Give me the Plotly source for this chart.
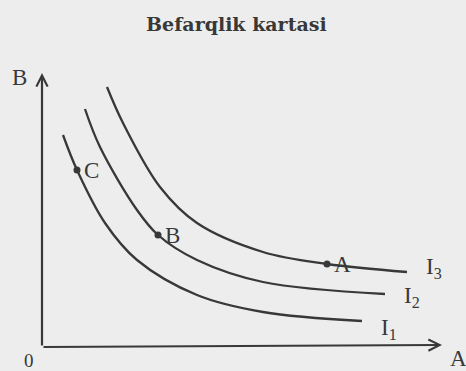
import plotly.graph_objects as go

# indifference curves (origin at the axes corner)
i1_x = [21, 35, 63, 95, 155, 221, 320]
i1_y = [212, 177, 124, 87, 52, 35, 26]
i2_x = [43, 58, 95, 116, 155, 221, 343]
i2_y = [238, 200, 137, 112, 87, 65, 53]
i3_x = [65, 81, 118, 155, 221, 285, 365]
i3_y = [260, 224, 160, 124, 95, 83, 75]

point_names = ["C", "B", "A"]
point_x = [35, 116, 285]
point_y = [177, 112, 83]

curve_names = ["I<sub>1</sub>", "I<sub>2</sub>", "I<sub>3</sub>"]

ink = "#383838"
serif = "Liberation Serif"

fig = go.Figure()

for xs, ys in [(i1_x, i1_y), (i2_x, i2_y), (i3_x, i3_y)]:
    fig.add_trace(
        go.Scatter(
            x=xs, y=ys, mode="lines",
            line=dict(color=ink, width=2.3, shape="spline", smoothing=1.0),
            hoverinfo="skip", showlegend=False,
        )
    )

fig.add_trace(
    go.Scatter(
        x=point_x, y=point_y, mode="markers",
        marker=dict(color=ink, size=7),
        hoverinfo="skip", showlegend=False,
    )
)

# point labels sit just right of each point
for name, px, py in zip(point_names, point_x, point_y):
    fig.add_annotation(
        x=px, y=py, text=name, showarrow=False, xanchor="left", xshift=5,
        font=dict(family=serif, size=23, color=ink),
    )

# curve labels at the right end of each curve
for name, xs, ys, dy in zip(curve_names, [i1_x, i2_x, i3_x], [i1_y, i2_y, i3_y], [-8, -3, 4]):
    fig.add_annotation(
        x=xs[-1], y=ys[-1] + dy, text=name, showarrow=False, xanchor="left", xshift=17,
        font=dict(family=serif, size=23, color=ink),
    )

# axes with arrowheads
fig.add_annotation(
    x=0, y=274, ax=0, ay=0, xref="x", yref="y", axref="x", ayref="y",
    showarrow=True, arrowhead=5, arrowsize=1, arrowwidth=2.2, arrowcolor=ink,
    standoff=0, text="",
)
fig.add_annotation(
    x=400, y=2, ax=0, ay=0, xref="x", yref="y", axref="x", ayref="y",
    showarrow=True, arrowhead=5, arrowsize=1, arrowwidth=2.2, arrowcolor=ink,
    standoff=0, text="",
)

# axis labels
fig.add_annotation(x=-23, y=270, text="B", showarrow=False,
                   font=dict(family=serif, size=23, color=ink))
fig.add_annotation(x=416, y=-11, text="A", showarrow=False,
                   font=dict(family=serif, size=23, color=ink))
fig.add_annotation(x=-13, y=-13, text="0", showarrow=False,
                   font=dict(family=serif, size=19, color=ink))

# title
fig.add_annotation(
    x=236 / 466, y=(371 - 24) / 371, xref="paper", yref="paper",
    xanchor="center", yanchor="middle",
    text="<b>Befarqlik kartasi</b>", showarrow=False,
    font=dict(family="DejaVu Serif", size=19, color="#383838"),
)

fig.update_layout(
    width=466, height=371,
    margin=dict(l=0, r=0, t=0, b=0),
    paper_bgcolor="#ededed", plot_bgcolor="#ededed",
    xaxis=dict(range=[-42, 424], visible=False, fixedrange=True),
    yaxis=dict(range=[-24, 347], visible=False, fixedrange=True),
)

# drop the browser's default body margin so the figure fills the window
fig.write_html(
    "out.html",
    config={"displayModeBar": False},
    post_script="document.body.style.margin = '0';",
)
